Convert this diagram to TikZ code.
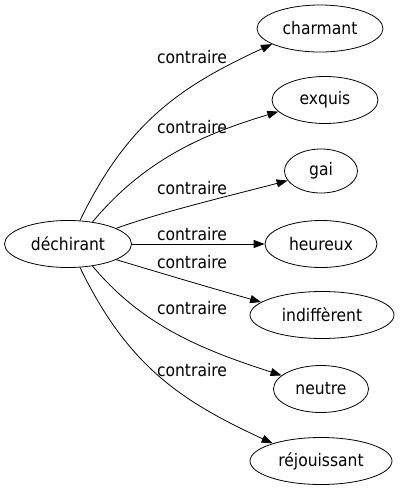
\documentclass[tikz,border=0pt]{standalone}
\usepackage{fontspec}
\setmainfont{DejaVu Sans Condensed}
\usetikzlibrary{shapes.geometric,arrows.meta}
\begin{document}
\begin{tikzpicture}[x=1pt,y=-1pt,
  nd/.style={draw,ellipse,inner sep=0pt,minimum height=47pt,line width=0.8pt,font=\fontsize{17.3}{20}\selectfont},
  lbl/.style={inner sep=0pt,font=\fontsize{17.3}{20}\selectfont},
  edge/.style={-{Triangle[length=11pt,width=8pt]},line width=0.8pt}]
\useasboundingbox (0,0) rectangle (400,491);
\node[nd,minimum width=127pt] (r) at (68,244) {déchirant};
\node[nd,minimum width=126pt] (charmant) at (320,28.5) {charmant};
\node[nd,minimum width=106pt] (exquis) at (325,100) {exquis};
\node[nd,minimum width=73pt,minimum height=44pt] (gai) at (321,171) {gai};
\node[nd,minimum width=112pt] (heureux) at (321,244) {heureux};
\node[nd,minimum width=144pt] (indiff) at (322,315) {indiffèrent};
\node[nd,minimum width=95pt] (neutre) at (321,389) {neutre};
\node[nd,minimum width=142pt] (rej) at (321,461) {réjouissant};
\draw[edge] (r.63) .. controls +(48,-99) and +(-91,42) .. (charmant.198);
\draw[edge] (r.42) .. controls +(51,-61) and +(-77,23) .. (exquis.194);
\draw[edge] (r.18) .. controls +(47,-17) and +(-53,14) .. (gai.196);
\draw[edge] (r.0) -- (heureux.180);
\draw[edge] (r.-18) .. controls +(50,15) and +(-50,-14) .. (indiff.168);
\draw[edge] (r.-42) .. controls +(51,61) and +(-77,-25) .. (neutre.161);
\draw[edge] (r.-63) .. controls +(48,99) and +(-91,-42) .. (rej.160);
\node[lbl] (l1) at (192,57) {contraire};
\node[lbl] (l2) at (192,127) {contraire};
\node[lbl] (l3) at (192,188) {contraire};
\node[lbl] (l4) at (192,234) {contraire};
\node[lbl] (l5) at (192,262) {contraire};
\node[lbl] (l6) at (192,308) {contraire};
\node[lbl] (l7) at (192,370) {contraire};
\end{tikzpicture}
\end{document}
